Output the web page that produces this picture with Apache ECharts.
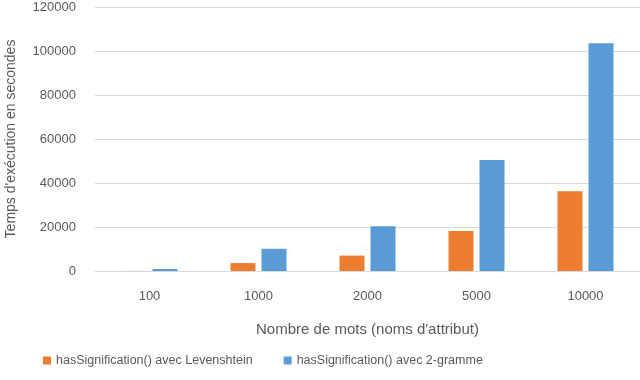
<!DOCTYPE html>
<html>
<head>
<meta charset="utf-8">
<script src="https://cdn.jsdelivr.net/npm/echarts@6/dist/echarts.min.js"></script>
<style>
  html, body { margin: 0; padding: 0; background: #fff; }
  #chart { width: 640px; height: 380px; }
</style>
</head>
<body>
<div id="chart"></div>
<script>
const categories = ['100', '1000', '2000', '5000', '10000']
const levenshtein = [60, 3600, 7000, 18200, 36300]
const bigram = [900, 10100, 20300, 50400, 103500]

const chart = echarts.init(document.getElementById('chart'))
const font = 'Liberation Sans'
const textColor = '#595959'

chart.setOption({
  animation: false,
  grid: { left: 95, top: 7, width: 545, height: 264, outerBoundsMode: 'none' },
  legend: {
    top: 349,
    left: 38,
    itemWidth: 8,
    itemHeight: 8,
    itemGap: 31,
    icon: 'rect',
    textStyle: { fontFamily: font, fontSize: 12.5, color: textColor }
  },
  xAxis: {
    type: 'category',
    data: categories,
    name: 'Nombre de mots (noms d\'attribut)',
    nameLocation: 'middle',
    nameGap: 51,
    nameTextStyle: { fontFamily: font, fontSize: 15, color: textColor },
    axisLine: { lineStyle: { color: '#d9d9d9' } },
    axisTick: { show: false },
    axisLabel: { fontFamily: font, fontSize: 13, color: textColor, margin: 19 }
  },
  yAxis: {
    type: 'value',
    min: 0,
    max: 120000,
    interval: 20000,
    name: 'Temps d\'exécution en secondes',
    nameLocation: 'middle',
    nameGap: 77,
    nameTextStyle: { fontFamily: font, fontSize: 14, color: textColor },
    axisLabel: {
      fontFamily: font, fontSize: 13, color: textColor, margin: 19,
      formatter: v => String(v)
    },
    splitLine: { lineStyle: { color: '#d9d9d9' } }
  },
  series: [
    {
      name: 'hasSignification() avec Levenshtein',
      type: 'bar',
      data: levenshtein,
      barWidth: 25,
      barGap: '24%',
      itemStyle: { color: '#ED7D31' }
    },
    {
      name: 'hasSignification() avec 2-gramme',
      type: 'bar',
      data: bigram,
      barWidth: 25,
      itemStyle: { color: '#5B9BD5' }
    }
  ]
})
</script>
</body>
</html>
